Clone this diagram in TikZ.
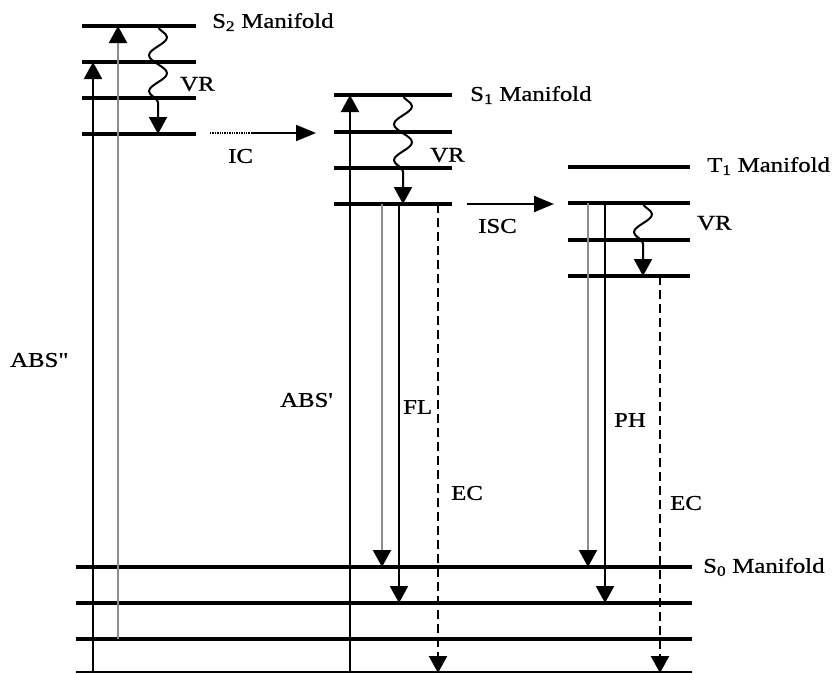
\documentclass[tikz,border=0pt]{standalone}
\usepackage{fontspec}
\newfontfamily\lblfont{Liberation Serif}[FakeStretch=1.18,FakeBold=0.8,Ligatures=TeXOff]
\usetikzlibrary{arrows.meta,decorations.pathmorphing}
\tikzset{
  lvl/.style={line width=3.6pt},
  trans/.style={line width=2pt,-{Triangle[width=18pt,length=17pt]}},
  faint/.style={line width=2.2pt,draw=black!45,-{Triangle[width=18pt,length=17pt,color=black]}},
  ecline/.style={line width=2.4pt,dash pattern=on 9pt off 5pt,-{Triangle[width=18pt,length=17pt]}},
  wavy/.style={line width=2pt,-{Triangle[width=18pt,length=17pt]},decorate,decoration={snake,segment length=36pt,amplitude=9pt,post length=18pt}},
  horiz/.style={line width=2pt,-{Triangle[width=16pt,length=20pt]}},
  lbl/.style={font=\lblfont\fontsize{21}{21}\selectfont,inner sep=0pt,anchor=west}
}
\begin{document}
\begin{tikzpicture}[x=1pt,y=-1pt]
\useasboundingbox (0,0) rectangle (836,673);
% S2 manifold levels
\foreach \y/\n in {26/a,62/b,98/c,134/d}{
  \coordinate (s2l\n) at (82,\y); \coordinate (s2r\n) at (196,\y);
  \draw[lvl] (s2l\n) -- (s2r\n);}
% S1 manifold levels
\foreach \y/\n in {95/a,132/b,168/c,204/d}{
  \coordinate (s1l\n) at (334,\y); \coordinate (s1r\n) at (452,\y);
  \draw[lvl] (s1l\n) -- (s1r\n);}
% T1 manifold levels
\foreach \y/\n in {167/a,203/b,240/c,276/d}{
  \coordinate (t1l\n) at (568,\y); \coordinate (t1r\n) at (690,\y);
  \draw[lvl] (t1l\n) -- (t1r\n);}
% S0 manifold levels
\foreach \y/\n in {567/a,603/b,639/c}{
  \coordinate (s0l\n) at (76,\y); \coordinate (s0r\n) at (692,\y);
  \draw[lvl] (s0l\n) -- (s0r\n);}
\coordinate (s0ld) at (76,672); \coordinate (s0rd) at (692,672);
\draw[line width=1.5pt] (s0ld) -- (s0rd);

% coordinates for transitions
\coordinate (absA0) at (93,673);  \coordinate (absA1) at (93,62);
\coordinate (absB0) at (118,639); \coordinate (absB1) at (118,26);
\coordinate (absC0) at (350,673); \coordinate (absC1) at (350,95);
\coordinate (vr20) at (158,26);   \coordinate (vr21) at (158,134);
\coordinate (vr10) at (403,95);   \coordinate (vr11) at (403,204);
\coordinate (vrt0) at (643,203);  \coordinate (vrt1) at (643,276);
\coordinate (fl10) at (382,204);  \coordinate (fl11) at (382,567);
\coordinate (fl20) at (399,204);  \coordinate (fl21) at (399,603);
\coordinate (ec10) at (438,204);  \coordinate (ec11) at (438,673);
\coordinate (ph10) at (588,203);  \coordinate (ph11) at (588,567);
\coordinate (ph20) at (605,203);  \coordinate (ph21) at (605,603);
\coordinate (ec20) at (660,276);  \coordinate (ec21) at (660,673);
\coordinate (ic0) at (210,133);   \coordinate (icm) at (252,133); \coordinate (ic1) at (316,133);
\coordinate (isc0) at (467,204);  \coordinate (isc1) at (554,204);

% absorption
\draw[trans] (absA0) -- (absA1);
\draw[faint] (absB0) -- (absB1);
\draw[trans] (absC0) -- (absC1);
% vibrational relaxation
\draw[wavy] (vr20) -- (vr21);
\draw[wavy] (vr10) -- (vr11);
\draw[wavy] (vrt0) -- (vrt1);
% fluorescence / phosphorescence
\draw[faint] (fl10) -- (fl11);
\draw[trans] (fl20) -- (fl21);
\draw[faint] (ph10) -- (ph11);
\draw[trans] (ph20) -- (ph21);
% external conversion
\draw[ecline] (ec10) -- (ec11);
\draw[ecline] (ec20) -- (ec21);
% IC and ISC
\draw[line width=1.4pt,densely dotted] (ic0) -- (icm);
\draw[horiz] (icm) -- (ic1);
\draw[horiz] (isc0) -- (isc1);

% labels
\node[lbl] (lS2) at (212,22) {S\textsubscript{2} Manifold};
\node[lbl] (lS1) at (470,95) {S\textsubscript{1} Manifold};
\node[lbl] (lT1) at (707,166) {T\textsubscript{1} Manifold};
\node[lbl] (lS0) at (703,567) {S\textsubscript{0} Manifold};
\node[lbl] (lvr2) at (180,84) {VR};
\node[lbl] (lvr1) at (430,155) {VR};
\node[lbl] (lvrt) at (697,223) {VR};
\node[lbl] (lic) at (228,156) {IC};
\node[lbl] (lisc) at (478,226) {ISC};
\node[lbl] (labs2) at (10,360) {ABS"};
\node[lbl] (labs1) at (280,400) {ABS'};
\node[lbl] (lfl) at (403,407) {FL};
\node[lbl] (lec1) at (451,493) {EC};
\node[lbl] (lph) at (614,420) {PH};
\node[lbl] (lec2) at (670,503) {EC};
\end{tikzpicture}
\end{document}
